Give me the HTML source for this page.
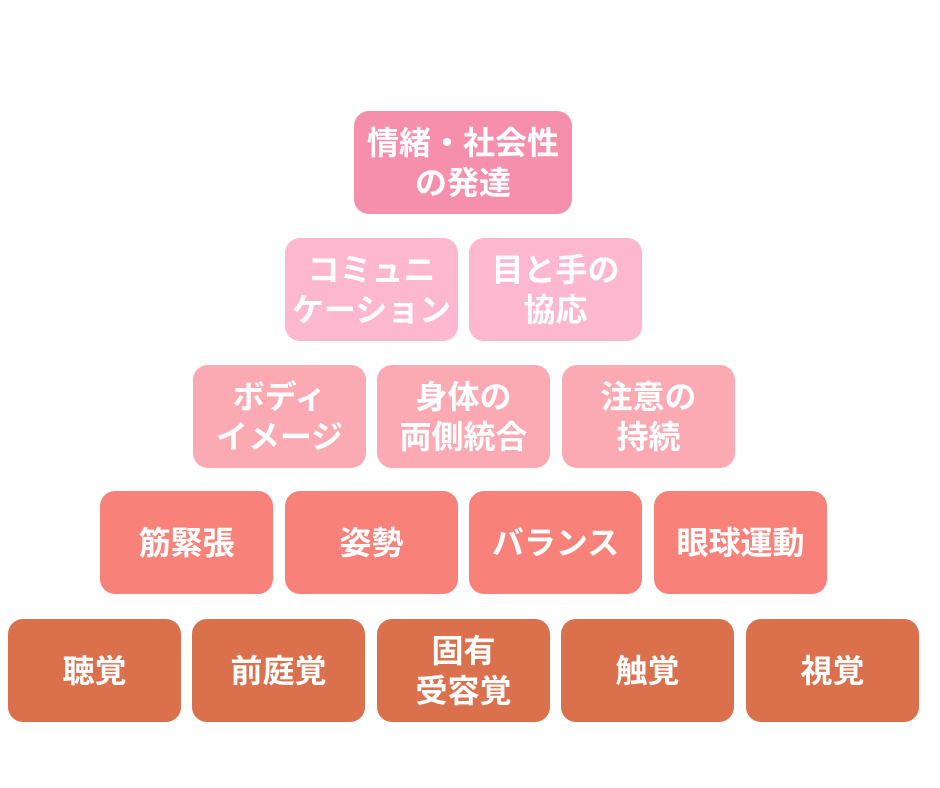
<!DOCTYPE html>
<html><head><meta charset="utf-8"><style>
html,body{margin:0;padding:0;background:#fff;}
body{width:940px;height:788px;position:relative;overflow:hidden;font-family:"Liberation Sans","Noto Sans CJK JP",sans-serif;}
.b{position:absolute;width:173px;height:103px;border-radius:15px;color:#fff;font-weight:bold;font-size:32px;line-height:40px;display:flex;align-items:center;justify-content:center;text-align:center;letter-spacing:0;white-space:nowrap;}
.r1{background:#f68fac;width:218px;}
.r2{background:#fdb7cf;}
.r3{background:#fbaab3;}
.r4{background:#f8827a;}
.r5{background:#db704d;}
</style></head><body>
<div class="b r1" style="left:354px;top:111px">情緒・社会性<br>の発達</div>
<div class="b r2" style="left:285px;top:238px">コミュニ<br>ケーション</div>
<div class="b r2" style="left:469px;top:238px">目と手の<br>協応</div>
<div class="b r3" style="left:193px;top:365px">ボディ<br>イメージ</div>
<div class="b r3" style="left:377px;top:365px">身体の<br>両側統合</div>
<div class="b r3" style="left:562px;top:365px">注意の<br>持続</div>
<div class="b r4" style="left:100px;top:491px">筋緊張</div>
<div class="b r4" style="left:285px;top:491px">姿勢</div>
<div class="b r4" style="left:469px;top:491px">バランス</div>
<div class="b r4" style="left:654px;top:491px">眼球運動</div>
<div class="b r5" style="left:8px;top:619px">聴覚</div>
<div class="b r5" style="left:192px;top:619px">前庭覚</div>
<div class="b r5" style="left:377px;top:619px">固有<br>受容覚</div>
<div class="b r5" style="left:561px;top:619px">触覚</div>
<div class="b r5" style="left:746px;top:619px">視覚</div>
</body></html>
